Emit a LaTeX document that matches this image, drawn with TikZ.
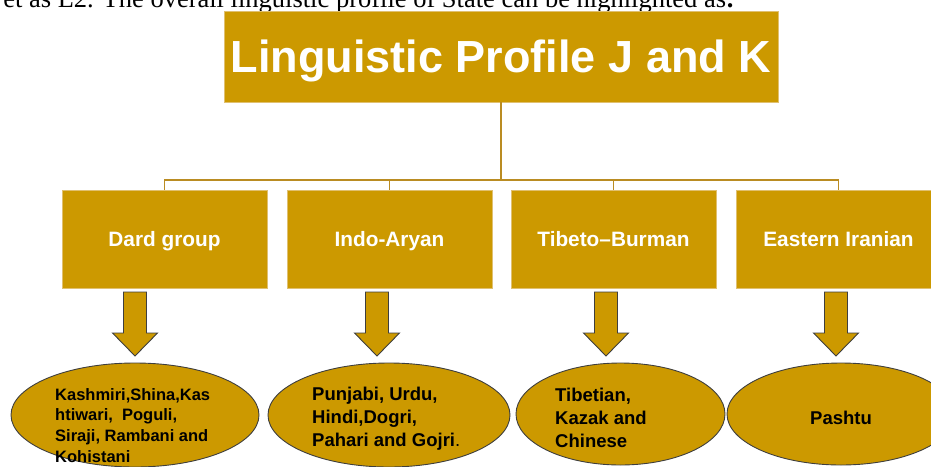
\documentclass[tikz,border=0pt]{standalone}
\usepackage{fontspec}
\setmainfont{Liberation Serif}
\setsansfont{Liberation Sans}
\usetikzlibrary{shapes.geometric}
\definecolor{gold}{RGB}{204,153,0}
\definecolor{goldedge}{RGB}{224,192,112}
\definecolor{busline}{RGB}{186,140,34}
\definecolor{outline}{RGB}{62,62,62}
\tikzset{
	header/.style={rectangle, fill=gold, draw=goldedge, line width=0.8pt, text=white,
		minimum width=554pt, minimum height=91pt, inner sep=0pt,
		text height=32.2pt, text depth=0pt,
		font=\sffamily\bfseries\fontsize{45}{50}\selectfont},
	group/.style={rectangle, fill=gold, draw=goldedge, line width=0.8pt, text=white,
		minimum width=205pt, minimum height=98pt, inner sep=0pt,
		text height=14.9pt, text depth=0pt,
		font=\sffamily\bfseries\fontsize{20.8}{24}\selectfont},
	langs/.style={ellipse, fill=gold, draw=outline, line width=0.9pt, inner sep=0pt},
	langtext/.style={align=left, inner sep=0pt,
		font=\sffamily\bfseries\fontsize{18.5}{22.8}\selectfont},
	link/.style={busline, line width=1.3pt},
	blockarrow/.style={fill=gold, draw=outline, line width=0.9pt, line join=miter}
}
\begin{document}
\begin{tikzpicture}[x=1pt,y=-1pt]
	\useasboundingbox (0,0) rectangle (931,466);
	% cut-off sentence above the chart
	\node[anchor=base east, inner sep=0pt, font=\fontsize{26.5}{30}\selectfont] (lead) at (735,7.5)
		{et as L2. The overall linguistic profile of State can be highlighted as{\bfseries :}};
	% top and second level
	\node[header] (title) at (501,56.5) {Linguistic Profile J and K};
	\node[group] (dard) at (164.5,239) {Dard group};
	\node[group] (indo) at (389.5,239) {Indo-Aryan};
	\node[group] (tibet) at (613.5,239) {Tibeto--Burman};
	\node[group] (iran) at (838.5,239) {Eastern Iranian};
	\coordinate (bus) at (501,180);
	\draw[link] (title.south) -- (bus);
	\foreach \n in {dard,indo,tibet,iran}
		\draw[link] (bus) -| (\n.north);
	% block arrows
	\foreach \x in {135,377,606,836}
		\draw[blockarrow] (\x-11.5,292) -- ++(23,0) -- ++(0,41) -- ++(11,0)
			-- (\x,356) -- (\x-22.5,333) -- ++(11,0) -- cycle;
	% languages
	\node[langs, minimum width=248pt, minimum height=104pt] (dardL) at (135,415) {};
	\node[langs, minimum width=242pt, minimum height=104pt] (indoL) at (389,415) {};
	\node[langs, minimum width=209pt, minimum height=102pt] (tibetL) at (620.5,414) {};
	\node[langs, minimum width=228pt, minimum height=102pt] (iranL) at (841,414) {};
	\node[langtext, anchor=base west, font=\sffamily\bfseries\fontsize{16.5}{20.8}\selectfont] (dardT) at (55,462.5)
		{Kashmiri,Shina,Kas\\htiwari,\ \ Poguli,\\Siraji, Rambani and\\Kohistani};
	\node[langtext, anchor=base west] (indoT) at (312,446)
		{Punjabi, Urdu,\\Hindi,Dogri,\\Pahari and Gojri{\mdseries.}};
	\node[langtext, anchor=base west] (tibetT) at (555,447)
		{Tibetian,\\Kazak and\\Chinese};
	\node[langtext, anchor=base] (iranT) at (841,424) {Pashtu};
\end{tikzpicture}
\end{document}
